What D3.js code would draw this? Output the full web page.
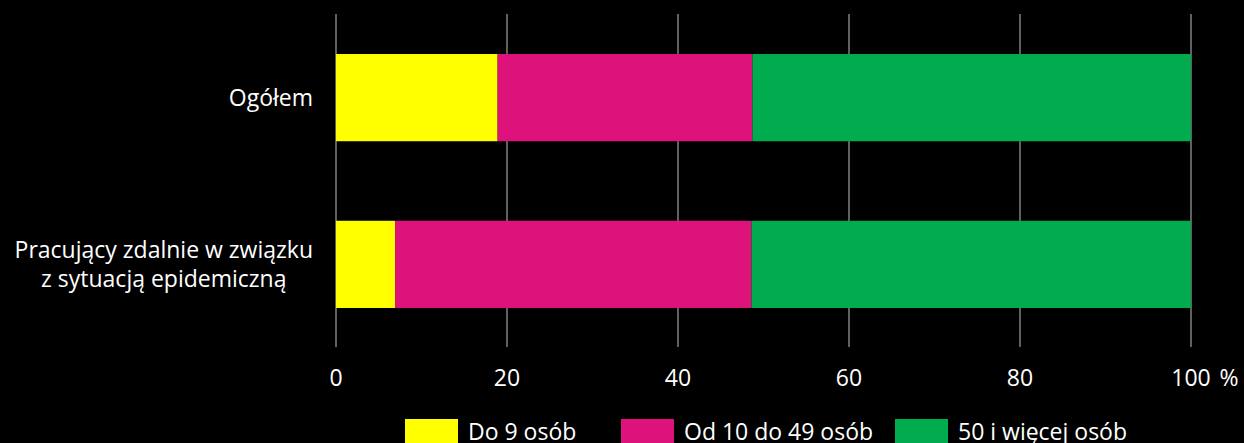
<!doctype html>
<html>
    <head>
        <meta charset="utf-8">
        <script src="https://cdn.jsdelivr.net/npm/d3@7"></script>
        <style type="text/css">
            body {
                margin:0;
                background:#000;
            }
            text {
                fill:#fff;
                font-family:"Open Sans",sans-serif;
                font-size:23px;
            }
        </style>
    </head>
    <body>
        <script>
            //categories, series names and values (share in %)
            var categories = ["Ogółem", "Pracujący zdalnie w związku|z sytuacją epidemiczną"];
            var seriesNames = ["Do 9 osób", "Od 10 do 49 osób", "50 i więcej osób"];
            var small = [18.9, 6.9];
            var medium = [29.8, 41.7];
            var large = [51.3, 51.4];
            var colors = ["#ffff00", "#dd137b", "#00ac4e"];
            var ticks = [0, 20, 40, 60, 80, 100];

            var width = 1244, height = 443;

            var svg = d3.select("body").append("svg")
                .attr("width", width)
                .attr("height", height);

            var x = d3.scaleLinear().domain([0, 100]).range([336, 1191]);
            var y = d3.scaleBand().domain(categories).range([14, 348])
                .paddingInner(0.477).paddingOuter(0.24);

            //gridlines
            svg.append("g").selectAll("line")
                .data(ticks)
                .enter().append("line")
                .attr("x1", function(d) { return x(d); })
                .attr("x2", function(d) { return x(d); })
                .attr("y1", 14)
                .attr("y2", 347)
                .attr("stroke", "#808080")
                .attr("stroke-width", 1.5);

            //stack the series
            var rows = categories.map(function(c, i) {
                return {cat: c, s0: small[i], s1: medium[i], s2: large[i]};
            });
            var stack = d3.stack().keys(["s0", "s1", "s2"])(rows);

            svg.append("g").selectAll("g")
                .data(stack)
                .enter().append("g")
                .attr("fill", function(d, i) { return colors[i]; })
                .selectAll("rect")
                .data(function(d) { return d; })
                .enter().append("rect")
                .attr("x", function(d) { return x(d[0]); })
                .attr("width", function(d) { return x(d[1]) - x(d[0]); })
                .attr("y", function(d) { return y(d.data.cat); })
                .attr("height", y.bandwidth());

            //category labels: centred lines, block right-aligned at 313
            svg.append("g").selectAll("text")
                .data(categories)
                .enter().append("text")
                .attr("text-anchor", "middle")
                .attr("y", function(d) { return y(d) + y.bandwidth() / 2; })
                .each(function(d) {
                    var lines = d.split("|");
                    var t = d3.select(this);
                    lines.forEach(function(l, i) {
                        t.append("tspan")
                            .attr("x", 0)
                            .attr("dy", i == 0 ? (0.35 - (lines.length - 1) * 0.63) + "em" : "1.26em")
                            .text(l);
                    });
                    var w = this.getBBox().width;
                    t.attr("transform", "translate(" + (313 - w / 2) + ",0)");
                });

            //x axis tick labels
            svg.append("g").selectAll("text")
                .data(ticks)
                .enter().append("text")
                .attr("text-anchor", "middle")
                .attr("x", function(d) { return x(d); })
                .attr("y", 386)
                .text(function(d) { return d; });

            svg.append("text")
                .attr("x", 1229)
                .attr("y", 386)
                .attr("text-anchor", "middle")
                .text("%");

            //legend
            var legendX = [405, 621, 895];
            var legend = svg.append("g").selectAll("g")
                .data(seriesNames)
                .enter().append("g")
                .attr("transform", function(d, i) { return "translate(" + legendX[i] + ",419)"; });

            legend.append("rect")
                .attr("width", 53)
                .attr("height", 26)
                .attr("fill", function(d, i) { return colors[i]; });

            legend.append("text")
                .attr("x", 63)
                .attr("y", 21)
                .text(function(d) { return d; });
        </script>
    </body>
</html>
